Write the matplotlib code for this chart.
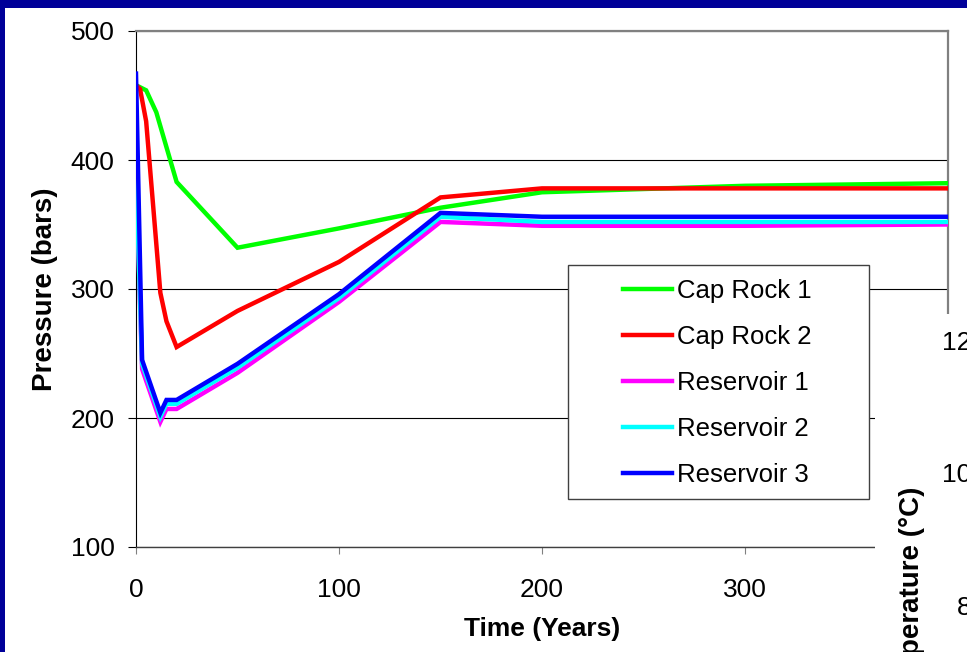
import matplotlib
matplotlib.use("Agg")
import matplotlib.pyplot as plt
from matplotlib.patches import Rectangle

plt.rcParams['font.family'] = ['Liberation Sans', 'DejaVu Sans']

# ---- data ----
t_cap1 = [0, 5, 10, 20, 50, 100, 150, 200, 300, 400]
p_cap1 = [458, 454, 437, 383, 332, 347, 363, 375, 380, 382]

t_cap2 = [0, 2, 5, 12, 15, 20, 50, 100, 150, 200, 300, 400]
p_cap2 = [458, 455, 430, 297, 275, 255, 283, 321, 371, 378, 378, 378]

t_res = [0, 3, 12, 15, 20, 50, 100, 150, 200, 300, 400]
p_res1 = [388, 238, 197, 207, 207, 235, 290, 352, 349, 349, 350]
p_res2 = [390, 242, 201, 211, 211, 239, 293, 356, 352, 352, 352]
p_res3 = [467, 245, 204, 214, 214, 242, 296, 359, 356, 356, 356]

series_labels = ['Cap Rock 1', 'Cap Rock 2', 'Reservoir 1', 'Reservoir 2', 'Reservoir 3']
series_colors = ['#00FF00', '#FF0000', '#FF00FF', '#00FFFF', '#0000FF']

x_ticks = [0, 100, 200, 300]
y_ticks = [100, 200, 300, 400, 500]
temp_ticks = [80, 100, 120]

W, H = 967, 652
fig = plt.figure(figsize=(W / 100, H / 100), dpi=100)
fig.patch.set_facecolor('#000099')

# white slide/chart area
fig.patches.append(Rectangle((5 / W, 0), 1, 1 - 8 / H, transform=fig.transFigure,
                             facecolor='white', edgecolor='none', zorder=-1))

L, R, T, B = 136, 948, 31, 547
ax = fig.add_axes([L / W, 1 - B / H, (R - L) / W, (B - T) / H])
ax.set_facecolor('white')

data = [(t_cap1, p_cap1), (t_cap2, p_cap2), (t_res, p_res1), (t_res, p_res2), (t_res, p_res3)]
handles = []
for (tt, pp), lab, col in zip(data, series_labels, series_colors):
    h, = ax.plot(tt, pp, color=col, lw=3.2, label=lab, solid_joinstyle='miter', zorder=3)
    handles.append(h)

ax.set_xlim(0, 400)
ax.set_ylim(100, 500)
ax.set_xticks(x_ticks)
ax.set_yticks(y_ticks)
ax.tick_params(axis='both', labelsize=19)
ax.tick_params(axis='y', direction='out', length=6, width=0.8, color='black', pad=9.5)
ax.tick_params(axis='x', direction='out', length=5, width=0.8, color='#808080', pad=17)

ax.yaxis.grid(True, color='black', lw=0.8)
ax.set_axisbelow(True)
ax.spines['top'].set_color('#808080')
ax.spines['top'].set_linewidth(1.6)
ax.spines['right'].set_color('#808080')
ax.spines['right'].set_linewidth(1.6)
ax.spines['left'].set_color('black')
ax.spines['left'].set_linewidth(0.8)
ax.spines['bottom'].set_color('#404040')
ax.spines['bottom'].set_linewidth(1.0)

ax.set_xlabel('Time (Years)', fontsize=19, fontweight='bold', labelpad=11)
ax.set_ylabel('Pressure (bars)', fontsize=20, fontweight='bold')
ax.yaxis.set_label_coords((58 - L) / (R - L), 0.5)

# legend box
lx0, lx1, ly0, ly1 = 568, 869, 265, 499
ax.add_patch(Rectangle(((lx0 - L) / (R - L), (B - ly1) / (B - T)),
                       (lx1 - lx0) / (R - L), (ly1 - ly0) / (B - T),
                       transform=ax.transAxes, facecolor='white', edgecolor='#404040',
                       lw=1.0, zorder=4))
leg = ax.legend(handles=handles, loc='upper left',
                bbox_to_anchor=((623 - L) / (R - L), (B - 279) / (B - T)),
                frameon=False, fontsize=18.5, handlelength=1.9, handletextpad=0.2,
                labelspacing=0.86, borderpad=0, borderaxespad=0)
leg.set_zorder(5)

# overlapping second chart (temperature) at bottom right
fig.patches.append(Rectangle((875 / W, 0), 1, 1 - 314 / H, transform=fig.transFigure,
                             facecolor='white', edgecolor='none', zorder=1))
ax2 = fig.add_axes([994 / W, 1 - 658 / H, 0.3, (658 - 327) / H], zorder=2)
ax2.patch.set_visible(False)
for s in ax2.spines.values():
    s.set_visible(False)
ax2.set_ylim(72, 122)
ax2.set_yticks(temp_ticks)
ax2.set_xticks([])
ax2.tick_params(axis='y', length=0, pad=6, labelsize=19)
fig.text(912 / W, 1 - 598 / H, 'Temperature (°C)', rotation=90, ha='center', va='center',
         fontsize=20, fontweight='bold', zorder=3)

fig.savefig('out.png', dpi=100, facecolor=fig.get_facecolor())
